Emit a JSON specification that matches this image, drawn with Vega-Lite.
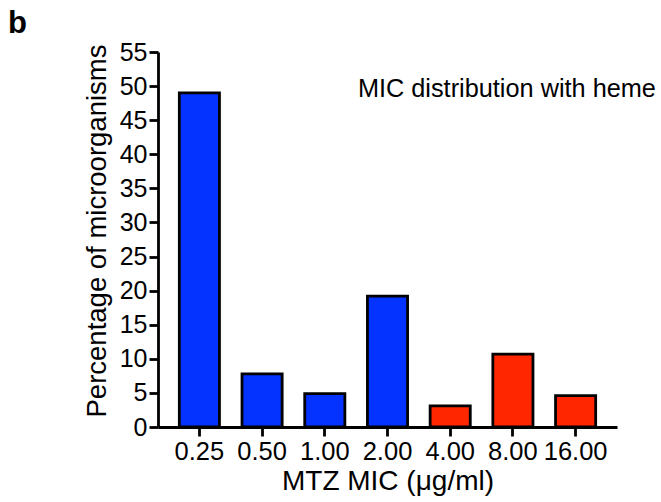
{
  "$schema": "https://vega.github.io/schema/vega-lite/v6.json",
  "width": 459,
  "height": 375,
  "autosize": "none",
  "padding": {"left": 158, "top": 52, "right": 44, "bottom": 75},
  "background": "white",
  "config": {
    "font": "Liberation Sans",
    "view": {"stroke": null},
    "axis": {"grid": false, "domainColor": "black", "tickColor": "black", "labelColor": "black", "titleColor": "black", "titleFontWeight": "normal", "labelFont": "Liberation Sans", "titleFont": "Liberation Sans", "labelOverlap": false}
  },
  "title": {"text": "b", "anchor": "start", "frame": "group", "fontSize": 31, "fontWeight": "bold", "color": "black", "dx": -150, "offset": 0},
  "data": {"values": [
    {"mic": "0.25", "pct": 49.0, "group": "low"},
    {"mic": "0.50", "pct": 7.8, "group": "low"},
    {"mic": "1.00", "pct": 4.9, "group": "low"},
    {"mic": "2.00", "pct": 19.2, "group": "low"},
    {"mic": "4.00", "pct": 3.1, "group": "high"},
    {"mic": "8.00", "pct": 10.7, "group": "high"},
    {"mic": "16.00", "pct": 4.6, "group": "high"}
  ]},
  "encoding": {
    "x": {"field": "mic", "type": "nominal", "sort": ["0.25", "0.50", "1.00", "2.00", "4.00", "8.00", "16.00"],
          "scale": {"paddingInner": 0.36, "paddingOuter": 0.34},
          "axis": {"title": "MTZ MIC (μg/ml)", "labelAngle": 0, "labelFontSize": 25.5, "titleFontSize": 28, "domainWidth": 2.8, "tickWidth": 2.8, "tickSize": 9, "labelPadding": 3, "titlePadding": 3}},
    "y": {"field": "pct", "type": "quantitative",
          "scale": {"domain": [0, 55], "nice": false},
          "axis": {"title": "Percentage of microorganisms", "values": [0,5,10,15,20,25,30,35,40,45,50,55], "labelFontSize": 25, "titleFontSize": 27.5, "titleY": 178.5, "domainWidth": 2.8, "tickWidth": 2.8, "tickSize": 9, "labelPadding": 2, "titlePadding": 8}}
  },
  "layer": [
    {
      "mark": {"type": "bar", "stroke": "black", "strokeWidth": 2.8},
      "encoding": {
        "fill": {"field": "group", "type": "nominal", "scale": {"domain": ["low", "high"], "range": ["#0433FF", "#FF2600"]}, "legend": null}
      }
    },
    {
      "data": {"values": [{"mic": "8.00", "pct": 48.4, "label": "MIC distribution with heme"}]},
      "mark": {"type": "text", "fontSize": 25.3, "color": "black", "align": "center", "baseline": "alphabetic", "dx": -6},
      "encoding": {
        "text": {"field": "label"}
      }
    }
  ]
}
